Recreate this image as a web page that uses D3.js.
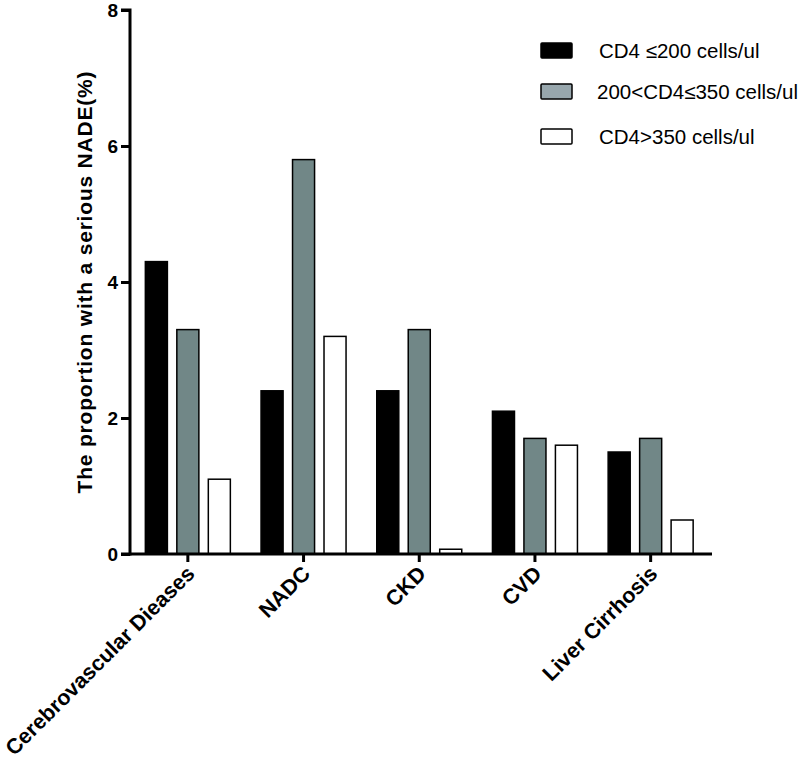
<!DOCTYPE html>
<html><head><meta charset="utf-8">
<script src="https://cdn.jsdelivr.net/npm/d3@7"></script>
<style>body{margin:0;background:#fff}svg{display:block}</style>
</head><body>
<script>
const categories = ["Cerebrovascular Dieases","NADC","CKD","CVD","Liver Cirrhosis"];
const seriesNames = ["CD4 \u2264200 cells/ul","200<CD4\u2264350 cells/ul","CD4>350 cells/ul"];
const low = [4.3, 2.4, 2.4, 2.1, 1.5];
const mid = [3.3, 5.8, 3.3, 1.7, 1.7];
const high = [1.1, 3.2, 0.07, 1.6, 0.5];
const yTicks = [0, 2, 4, 6, 8];
const yLabel = "The proportion with a serious NADE(%)";

const barColors = ["#000000", "#718787", "#ffffff"];
const legendColors = ["#000000", "#98a7ad", "#ffffff"];
const series = [low, mid, high];

const W = 800, H = 760;
const FONT = "Liberation Sans, Arial, sans-serif";
const svg = d3.select("body").append("svg").attr("width", W).attr("height", H)
  .style("font-family", FONT);

const x0 = 130, x1 = 708.5, xEnd = 712, yBase = 554, yTop = 10;
const x = d3.scaleBand().domain(categories).range([x0, x1]);
const xs = d3.scaleBand().domain([0,1,2]).range([-42.5, 42.5]).paddingInner(0.3);
const y = d3.scaleLinear().domain([0, 8]).range([yBase, yTop]);

// bars
const g = svg.append("g");
categories.forEach((c, i) => {
  series.forEach((s, k) => {
    g.append("rect")
      .attr("x", x(c) + x.bandwidth()/2 + xs(k))
      .attr("y", y(s[i]))
      .attr("width", xs.bandwidth())
      .attr("height", yBase - y(s[i]))
      .attr("fill", barColors[k])
      .attr("stroke", "#000").attr("stroke-width", 1.5);
  });
});

// y axis
const yAxis = d3.axisLeft(y).tickValues(yTicks).tickFormat(d3.format("d")).tickSize(9).tickPadding(3);
const ya = svg.append("g").attr("transform", `translate(${x0},0)`).call(yAxis);
ya.select(".domain").attr("stroke-width", 3).attr("d", `M-9,${yTop}H0V${yBase}H-9`);
ya.selectAll(".tick line").attr("stroke-width", 3);
ya.selectAll(".tick text").attr("font-size", 19).attr("font-weight", "bold").attr("fill", "#000")
  .attr("font-family", FONT).attr("dy", "0.36em");

// x axis
const xAxis = d3.axisBottom(x).tickSize(8).tickSizeOuter(0);
const xa = svg.append("g").attr("transform", `translate(0,${yBase})`).call(xAxis);
xa.select(".domain").attr("stroke-width", 3).attr("d", `M${x0},0H${xEnd}`);
xa.selectAll(".tick line").attr("stroke-width", 3);
xa.selectAll(".tick text")
  .attr("font-size", 21.5).attr("font-weight", "bold").attr("fill", "#000")
  .attr("font-family", FONT)
  .attr("text-anchor", "end")
  .attr("dy", null).attr("y", 0)
  .attr("transform", "translate(8,21) rotate(-45)");

// y label
svg.append("text")
  .attr("transform", `translate(92,${282}) rotate(-90)`)
  .attr("text-anchor", "middle")
  .attr("font-size", 21).attr("font-weight", "bold")
  .attr("letter-spacing", 0.8)
  .text(yLabel);

// legend
const legendY = [43, 84, 129];
const lg = svg.append("g");
seriesNames.forEach((n, k) => {
  const yy = legendY[k];
  lg.append("rect").attr("x", 541).attr("y", yy).attr("width", 31).attr("height", 15)
    .attr("fill", legendColors[k]).attr("stroke", "#000").attr("stroke-width", 1.5).attr("rx", 1);
  lg.append("text").attr("x", k === 1 ? 597 : 599).attr("y", yy + 14.5)
    .attr("font-size", 20.5).attr("fill", "#000").text(n);
});
</script>
</body></html>
